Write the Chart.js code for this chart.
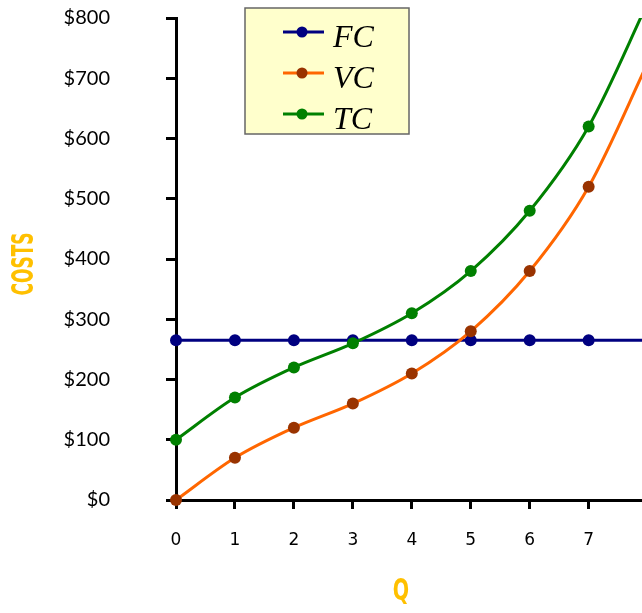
<!DOCTYPE html>
<html lang="en">
<head>
<meta charset="UTF-8">
<title>Cost Curves</title>
<style>
  html, body { margin: 0; padding: 0; background: #fff; }
</style>
</head>
<body>
<canvas id="costChart" width="642" height="613"></canvas>
<script src="https://cdn.jsdelivr.net/npm/chart.js"></script>
<script>
// output levels and the three cost series (last point runs off the right edge)
var quantity = [0, 1, 2, 3, 4, 5, 6, 7, 8];
var fixedCost = [265, 265, 265, 265, 265, 265, 265, 265, 265];
var variableCost = [0, 70, 120, 160, 210, 280, 380, 520, 725];
var totalCost = [100, 170, 220, 260, 310, 380, 480, 620, 825];
var seriesNames = ['FC', 'VC', 'TC'];
var costTicks = [0, 100, 200, 300, 400, 500, 600, 700, 800];
var qTicks = [0, 1, 2, 3, 4, 5, 6, 7];

function toPoints(vals) {
  return quantity.map(function (q, i) { return { x: q, y: vals[i] }; });
}

// boxed legend sitting inside the plot
var boxLegend = {
  id: 'boxLegend',
  afterDatasetsDraw: function (chart) {
    var ctx = chart.ctx;
    ctx.save();
    ctx.fillStyle = '#FFFFCC';
    ctx.fillRect(245, 8, 164, 126);
    ctx.strokeStyle = '#666666';
    ctx.lineWidth = 1.5;
    ctx.strokeRect(245, 8, 164, 126);
    var rows = [32, 73, 114];
    chart.data.datasets.forEach(function (ds, i) {
      var y = rows[i];
      ctx.strokeStyle = ds.borderColor;
      ctx.lineWidth = 3;
      ctx.beginPath();
      ctx.moveTo(283, y);
      ctx.lineTo(324, y);
      ctx.stroke();
      ctx.fillStyle = ds.pointBackgroundColor;
      ctx.beginPath();
      ctx.arc(302, y, 5.5, 0, Math.PI * 2);
      ctx.fill();
      ctx.fillStyle = '#000';
      ctx.font = 'italic 32px "Liberation Serif"';
      ctx.textBaseline = 'alphabetic';
      ctx.textAlign = 'left';
      ctx.fillText(ds.label, 333, y + 15);
    });
    ctx.restore();
  }
};

// condensed bold axis titles
var axisTitles = {
  id: 'axisTitles',
  afterDraw: function (chart) {
    var ctx = chart.ctx;
    ctx.save();
    ctx.fillStyle = '#FFC000';
    ctx.font = 'bold 31px "DejaVu Sans"';
    ctx.textAlign = 'center';
    ctx.textBaseline = 'middle';
    ctx.save();
    ctx.translate(24, 264);
    ctx.rotate(-Math.PI / 2);
    ctx.scale(0.55, 1);
    ctx.fillText('COSTS', 0, 1);
    ctx.restore();
    ctx.save();
    ctx.translate(401, 591);
    ctx.scale(0.62, 1);
    ctx.fillText('Q', 0, 1);
    ctx.restore();
    ctx.restore();
  }
};

function dataset(i, vals, line, dot, order) {
  return {
    label: seriesNames[i],
    data: toPoints(vals),
    borderColor: line,
    backgroundColor: dot,
    pointBackgroundColor: dot,
    pointBorderColor: dot,
    pointBorderWidth: 0,
    pointRadius: function (c) { return c.raw && c.raw.x > 7 ? 0 : 6; },
    borderWidth: 3,
    tension: 0.3,
    order: order,
    clip: { left: 12, top: 0, right: 0, bottom: 12 }
  };
}

new Chart(document.getElementById('costChart').getContext('2d'), {
  type: 'line',
  data: {
    datasets: [
      dataset(0, fixedCost, '#000080', '#000080', 3),
      dataset(1, variableCost, '#FF6600', '#993300', 2),
      dataset(2, totalCost, '#008000', '#008000', 1)
    ]
  },
  plugins: [boxLegend, axisTitles],
  options: {
    responsive: false,
    animation: false,
    events: [],
    layout: { autoPadding: false, padding: { top: 18, right: 0, left: 0, bottom: 0 } },
    plugins: { legend: { display: false }, tooltip: { enabled: false } },
    scales: {
      x: {
        type: 'linear',
        min: 0,
        max: 7.905,
        afterBuildTicks: function (s) { s.ticks = qTicks.map(function (v) { return { value: v }; }); },
        afterFit: function (s) { s.height = 113; s.paddingLeft = 0; s.paddingRight = 0; },
        border: { color: '#000', width: 3 },
        grid: { drawOnChartArea: false, drawTicks: true, tickLength: 9, tickWidth: 3, tickColor: '#000' },
        ticks: { color: '#000', padding: 21, font: { family: '"DejaVu Sans"', size: 17 } }
      },
      y: {
        min: 0,
        max: 800,
        afterBuildTicks: function (s) { s.ticks = costTicks.map(function (v) { return { value: v }; }); },
        afterFit: function (s) { s.width = 176; s.paddingTop = 0; s.paddingBottom = 0; },
        border: { color: '#000', width: 3 },
        grid: { drawOnChartArea: false, drawTicks: true, tickLength: 10, tickWidth: 3, tickColor: '#000' },
        ticks: {
          color: '#000',
          padding: 56,
          font: { family: 'Lato', size: 20 },
          callback: function (v) { return '$' + v; }
        }
      }
    }
  }
});
</script>
</body>
</html>
